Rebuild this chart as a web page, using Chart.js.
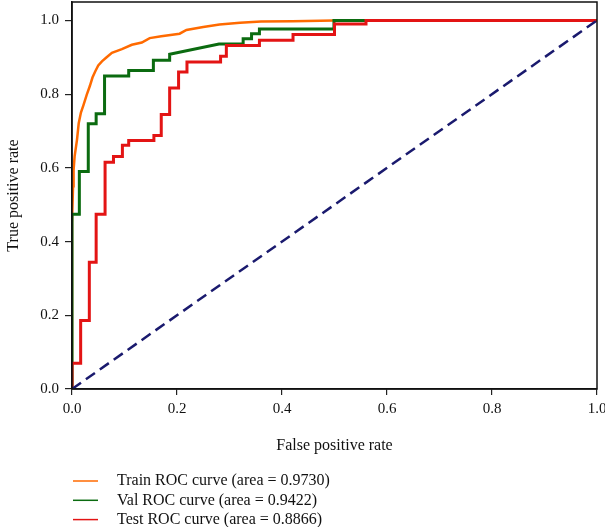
<!DOCTYPE html>
<html>
<head>
<meta charset="utf-8">
<title>ROC curves</title>
<script src="https://cdn.jsdelivr.net/npm/chart.js@4.4.1/dist/chart.umd.min.js"></script>
<style>
    html, body { margin: 0; padding: 0; background: #fff; }
    #wrap { position: relative; width: 605px; height: 527px; }
</style>
</head>
<body>
<div id="wrap"><canvas id="roc"></canvas></div>
<script>
// ROC points (false positive rate / true positive rate)
const trainFpr = [0, 0, 0.002, 0.003, 0.005, 0.0095, 0.0128, 0.017, 0.022, 0.028, 0.034, 0.039, 0.0444, 0.050, 0.057, 0.066, 0.076, 0.095, 0.114, 0.133, 0.148, 0.170, 0.205, 0.218, 0.250, 0.281, 0.320, 0.360, 0.420, 0.500, 1.0];
const trainTpr = [0, 0.45, 0.55, 0.594, 0.631, 0.676, 0.721, 0.750, 0.771, 0.798, 0.822, 0.845, 0.862, 0.878, 0.889, 0.900, 0.912, 0.922, 0.934, 0.940, 0.952, 0.957, 0.964, 0.974, 0.982, 0.989, 0.994, 0.997, 0.998, 1.0, 1.0];

const valFpr = [0, 0, 0.014, 0.014, 0.031, 0.031, 0.046, 0.046, 0.062, 0.062, 0.108, 0.108, 0.155, 0.155, 0.186, 0.186, 0.280, 0.326, 0.326, 0.342, 0.342, 0.357, 0.357, 0.499, 0.499, 1.0];
const valTpr = [0, 0.474, 0.474, 0.590, 0.590, 0.720, 0.720, 0.747, 0.747, 0.849, 0.849, 0.864, 0.864, 0.892, 0.892, 0.908, 0.936, 0.936, 0.950, 0.950, 0.964, 0.964, 0.977, 0.977, 1.0, 1.0];

const testFpr = [0, 0, 0.0165, 0.0165, 0.033, 0.033, 0.046, 0.046, 0.063, 0.063, 0.079, 0.079, 0.096, 0.096, 0.108, 0.108, 0.156, 0.156, 0.170, 0.170, 0.186, 0.186, 0.203, 0.203, 0.219, 0.219, 0.283, 0.283, 0.294, 0.294, 0.357, 0.357, 0.421, 0.421, 0.500, 0.500, 0.560, 0.560, 1.0];
const testTpr = [0, 0.07, 0.07, 0.186, 0.186, 0.344, 0.344, 0.474, 0.474, 0.615, 0.615, 0.631, 0.631, 0.661, 0.661, 0.674, 0.674, 0.6875, 0.6875, 0.745, 0.745, 0.817, 0.817, 0.860, 0.860, 0.887, 0.887, 0.903, 0.903, 0.932, 0.932, 0.946, 0.946, 0.962, 0.962, 0.990, 0.990, 1.0, 1.0];

const chanceFpr = [0, 1];
const chanceTpr = [0, 1];

const seriesLabels = [
    'Train ROC curve (area = 0.9730)',
    'Val ROC curve (area = 0.9422)',
    'Test ROC curve (area = 0.8866)'
];

const SERIF = '"Liberation Serif", "DejaVu Serif", serif';

function toPoints(xs, ys) {
    return xs.map((x, i) => ({ x: x, y: ys[i] }));
}

// frame around the plot area (matplotlib style box)
const frame = {
    id: 'frame',
    afterDatasetsDraw(chart) {
        const { ctx, chartArea: a } = chart;
        ctx.save();
        ctx.strokeStyle = '#111';
        ctx.lineWidth = 1.5;
        ctx.strokeRect(a.left, a.top, a.right - a.left, a.bottom - a.top);
        ctx.restore();
    }
};

// legend stacked under the x axis title, left aligned
const stackedLegend = {
    id: 'stackedLegend',
    afterDraw(chart) {
        const { ctx, chartArea: a } = chart;
        const items = chart.data.datasets.filter(d => d.label);
        ctx.save();
        ctx.font = '16px ' + SERIF;
        ctx.textBaseline = 'middle';
        ctx.fillStyle = '#111';
        items.forEach((d, i) => {
            const y = a.bottom + 92 + i * 19.3;
            ctx.strokeStyle = d.borderColor;
            ctx.lineWidth = 1.5;
            ctx.beginPath();
            ctx.moveTo(a.left + 1, y);
            ctx.lineTo(a.left + 26, y);
            ctx.stroke();
            ctx.fillText(d.label, a.left + 45, y);
        });
        ctx.restore();
    }
};

new Chart(document.getElementById('roc'), {
    type: 'scatter',
    data: {
        datasets: [
            {
                label: seriesLabels[0],
                data: toPoints(trainFpr, trainTpr),
                borderColor: '#ff6a00',
                borderWidth: 2.5,
                order: 3
            },
            {
                label: seriesLabels[1],
                data: toPoints(valFpr, valTpr),
                borderColor: '#0b6b10',
                borderWidth: 3,
                order: 2
            },
            {
                label: seriesLabels[2],
                data: toPoints(testFpr, testTpr),
                borderColor: '#e31414',
                borderWidth: 3,
                order: 1
            },
            {
                data: toPoints(chanceFpr, chanceTpr),
                borderColor: '#1a1a6e',
                borderWidth: 2.5,
                borderDash: [11, 6],
                order: 0
            }
        ].map(d => Object.assign(d, { showLine: true, pointRadius: 0, tension: 0, fill: false }))
    },
    options: {
        responsive: true,
        maintainAspectRatio: false,
        animation: false,
        layout: { padding: { top: 2, right: 8, bottom: 60, left: 0 } },
        plugins: {
            legend: { display: false },
            tooltip: { enabled: false }
        },
        scales: {
            x: {
                type: 'linear',
                min: 0,
                max: 1,
                afterFit(scale) {
                    scale.height = 78;
                    scale.paddingLeft = 0;
                    scale.paddingRight = 0;
                },
                border: { display: true, color: '#111', width: 1.5 },
                grid: { drawOnChartArea: false, drawTicks: true, tickLength: 6, color: '#222', lineWidth: 1.2 },
                ticks: {
                    stepSize: 0.2,
                    includeBounds: false,
                    padding: 5,
                    color: '#111',
                    font: { family: SERIF, size: 15 },
                    callback: v => v.toFixed(1)
                },
                title: {
                    display: true,
                    text: 'False positive rate',
                    color: '#111',
                    font: { family: SERIF, size: 16 },
                    padding: { top: 0, bottom: 12 }
                }
            },
            y: {
                type: 'linear',
                min: 0,
                max: 1.05,
                afterFit(scale) {
                    scale.width = 72;
                    scale.paddingTop = 0;
                    scale.paddingBottom = 0;
                },
                border: { display: true, color: '#111', width: 1.5 },
                grid: { drawOnChartArea: false, drawTicks: true, tickLength: 7, color: '#222', lineWidth: 1.2 },
                ticks: {
                    stepSize: 0.2,
                    includeBounds: false,
                    padding: 6,
                    color: '#111',
                    font: { family: SERIF, size: 15 },
                    callback: v => v.toFixed(1)
                },
                title: {
                    display: true,
                    text: 'True positive rate',
                    color: '#111',
                    font: { family: SERIF, size: 16 },
                    padding: { top: 4, bottom: 0 }
                }
            }
        }
    },
    plugins: [frame, stackedLegend]
});
</script>
</body>
</html>
